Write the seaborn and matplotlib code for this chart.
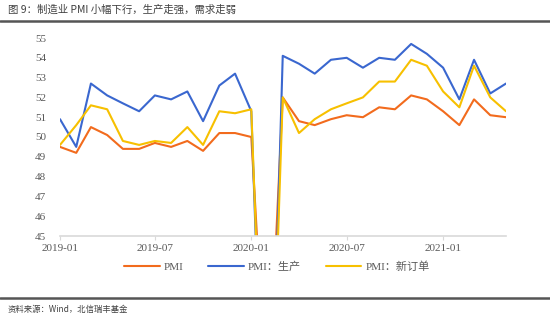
import matplotlib
matplotlib.use("Agg")
import matplotlib.pyplot as plt
import seaborn as sns
import pandas as pd

months = pd.date_range("2019-01-01", "2021-05-01", freq="MS")
pmi = [49.5, 49.2, 50.5, 50.1, 49.4, 49.4, 49.7, 49.5, 49.8, 49.3, 50.2, 50.2,
       50.0, 35.7, 52.0, 50.8, 50.6, 50.9, 51.1, 51.0, 51.5, 51.4, 52.1, 51.9,
       51.3, 50.6, 51.9, 51.1, 51.0]
production = [50.9, 49.5, 52.7, 52.1, 51.7, 51.3, 52.1, 51.9, 52.3, 50.8, 52.6, 53.2,
              51.3, 27.8, 54.1, 53.7, 53.2, 53.9, 54.0, 53.5, 54.0, 53.9, 54.7, 54.2,
              53.5, 51.9, 53.9, 52.2, 52.7]
new_orders = [49.6, 50.6, 51.6, 51.4, 49.8, 49.6, 49.8, 49.7, 50.5, 49.6, 51.3, 51.2,
              51.4, 29.3, 52.0, 50.2, 50.9, 51.4, 51.7, 52.0, 52.8, 52.8, 53.9, 53.6,
              52.3, 51.5, 53.6, 52.0, 51.3]
series_names = ["PMI", "PMI：生产", "PMI：新订单"]
colors = ["#F26B1D", "#3A67CF", "#F7C000"]
xtick_labels = ["2019-01", "2019-07", "2020-01", "2020-07", "2021-01"]
yticks = list(range(45, 56))

title = "图 9：制造业 PMI 小幅下行，生产走强，需求走弱"
source = "资料来源：Wind，北信瑞丰基金"

df = pd.DataFrame({"date": list(months) * 3,
                   "value": pmi + production + new_orders,
                   "series": sum([[n] * len(months) for n in series_names], [])})

sns.set_style("white")
plt.rcParams["font.family"] = ["Liberation Serif", "Noto Sans CJK SC", "DejaVu Sans"]

fig = plt.figure(figsize=(5.5, 3.22), dpi=100)
ax = fig.add_axes([60/550, 1-236/322, (506-60)/550, (236-38)/322])
sns.lineplot(data=df, x="date", y="value", hue="series", hue_order=series_names,
             palette=colors, linewidth=1.5, ax=ax, legend=True)

ax.set_ylim(45, 55)
ax.set_yticks(yticks)
ax.set_xlim(months[0], months[-1])
ax.set_xticks([pd.Timestamp(t + "-01") for t in xtick_labels])
ax.set_xticklabels(xtick_labels)
ax.set_xlabel("")
ax.set_ylabel("")
for s in ["top", "right", "left"]:
    ax.spines[s].set_visible(False)
ax.spines["bottom"].set_color("#D9D9D9")
ax.spines["bottom"].set_linewidth(1.2)
ax.tick_params(axis="x", colors="#595959", labelsize=8, length=3, width=0.8,
               color="#D9D9D9", pad=3, direction="out", bottom=True)
ax.tick_params(axis="y", colors="#595959", labelsize=8, length=0, pad=10)

h, l = ax.get_legend_handles_labels()
ax.get_legend().remove()
fig.legend(h, l, loc="center", bbox_to_anchor=(277/550, 1-267/322), ncol=3,
           frameon=False, fontsize=8, handlelength=3.2, columnspacing=2.2,
           labelcolor="#595959", handletextpad=0.4)

fig.text(8/550, 1-10/322, title, fontsize=7.5, color="#404040", va="center", ha="left",
         family=["Noto Sans CJK SC", "DejaVu Sans"])
fig.text(8/550, 1-309/322, source, fontsize=6, color="#404040", va="center", ha="left",
         family=["Noto Sans CJK SC", "DejaVu Sans"])
fig.add_artist(plt.Line2D([0, 1], [1-20.5/322, 1-20.5/322], color="#555555", lw=1.8,
                          transform=fig.transFigure))
fig.add_artist(plt.Line2D([0, 1], [1-298/322, 1-298/322], color="#555555", lw=1.8,
                          transform=fig.transFigure))

fig.savefig("out.png", dpi=100)
